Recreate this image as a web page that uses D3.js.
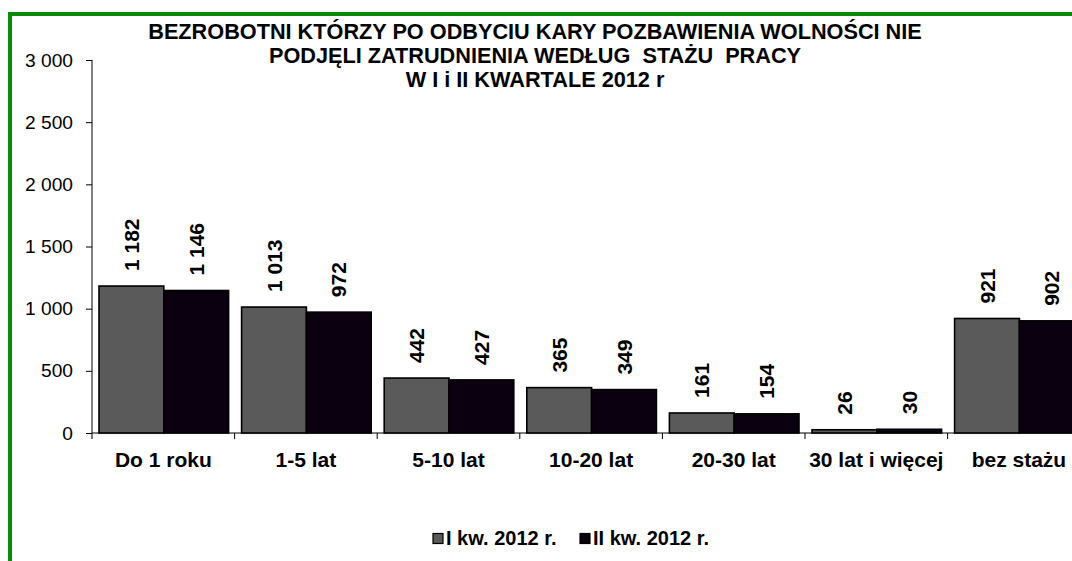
<!DOCTYPE html>
<html>
<head>
<meta charset="utf-8">
<title>Staż pracy</title>
<script src="https://cdnjs.cloudflare.com/ajax/libs/d3/7.8.5/d3.min.js"></script>
<style>
body{
margin:0;
background:#fff;
}
svg{
display:block;
font-family:"Liberation Sans", Arial, sans-serif;
}
</style>
</head>
<body>
<svg width="1072" height="561"></svg>

<script>

var categories = ["Do 1 roku", "1-5 lat", "5-10 lat", "10-20 lat", "20-30 lat", "30 lat i więcej", "bez stażu"]
var seriesNames = ["I kw. 2012 r.", "II kw. 2012 r."]
var q1 = [1182, 1013, 442, 365, 161, 26, 921]
var q2 = [1146, 972, 427, 349, 154, 30, 902]
var yTicks = [0, 500, 1000, 1500, 2000, 2500, 3000]
var titleLines = ["BEZROBOTNI KTÓRZY PO ODBYCIU KARY POZBAWIENIA WOLNOŚCI NIE", "PODJĘLI ZATRUDNIENIA WEDŁUG  STAŻU  PRACY", "W I i II KWARTALE 2012 r"]
var colors = ["#5a5a5a", "#0b0010"]

const FONT = "Liberation Sans, Arial, sans-serif"
const svg = d3.select('svg')
const fmt = d => d3.format(",")(d).replace(/,/g, " ")

// green frame, runs off the right and bottom edge
svg.append("rect")
	.attr("x", 10).attr("y", 14)
	.attr("width", 1100).attr("height", 600)
	.attr("fill", "none")
	.attr("stroke", "#0a8a0a")
	.attr("stroke-width", 4)

const x = d3.scaleBand().domain(categories).range([92, 92 + 7 * 142.6])
const xs = d3.scaleBand().domain([0, 1]).range([7, 142.6 - 6])
const y = d3.scaleLinear().domain([0, 3000]).range([433, 60])

// title
svg.append("g").selectAll("text")
	.data(titleLines)
	.join("text")
	.attr("x", 535)
	.attr("y", (d, i) => 38.5 + i * 24.3)
	.attr("text-anchor", "middle")
	.attr("font-size", 21.7)
	.attr("font-weight", "bold")
	.style("white-space", "pre")
	.text(d => d)

// y axis
const yAxis = svg.append("g")
	.attr("transform", "translate(92,0)")
	.call(d3.axisLeft(y).tickValues(yTicks).tickSize(6).tickPadding(13).tickFormat(fmt))
yAxis.select(".domain").attr("stroke", "#000").attr("d", "M0," + y(3000) + "V" + y(0))
yAxis.selectAll(".tick line").attr("stroke", "#000")
yAxis.selectAll("text").attr("font-size", 19.2).attr("font-family", FONT).attr("fill", "#000")

// x axis
const xAxis = svg.append("g")
	.attr("transform", "translate(0," + y(0) + ")")
	.call(d3.axisBottom(x).tickSize(0).tickPadding(19))
xAxis.select(".domain").attr("stroke", "#000").attr("d", "M92,0H1072")
xAxis.selectAll("text").attr("font-size", 21).attr("font-weight", "bold")
	.attr("font-family", FONT).attr("fill", "#000")
xAxis.selectAll(".sep")
	.data(categories)
	.join("line")
	.attr("class", "sep")
	.attr("x1", d => x(d)).attr("x2", d => x(d))
	.attr("y1", 0).attr("y2", 6)
	.attr("stroke", "#000")

// bars
const rows = categories.map((c, i) => [
	{cat: c, s: 0, v: q1[i]},
	{cat: c, s: 1, v: q2[i]}
]).flat()

svg.append("g").selectAll("rect")
	.data(rows)
	.join("rect")
	.attr("x", d => x(d.cat) + xs(d.s))
	.attr("y", d => y(d.v))
	.attr("width", xs.bandwidth())
	.attr("height", d => y(0) - y(d.v))
	.attr("fill", d => colors[d.s])
	.attr("stroke", "#000")
	.attr("stroke-width", 1.6)

// value labels, rotated
svg.append("g").selectAll("text")
	.data(rows)
	.join("text")
	.attr("transform", d => "translate(" + (x(d.cat) + xs(d.s) + xs.bandwidth() / 2 + 7.5) + "," + (y(d.v) - 15) + ") rotate(-90)")
	.attr("font-size", 21)
	.attr("font-weight", "bold")
	.text(d => fmt(d.v))

// legend
const legend = svg.append("g")
const lx = [433, 580]
legend.selectAll("rect")
	.data(seriesNames)
	.join("rect")
	.attr("x", (d, i) => lx[i]).attr("y", 533.5)
	.attr("width", 10).attr("height", 10)
	.attr("fill", (d, i) => colors[i])
	.attr("stroke", "#000")
	.attr("stroke-width", 1.2)
legend.selectAll("text")
	.data(seriesNames)
	.join("text")
	.attr("x", (d, i) => lx[i] + 13).attr("y", 545)
	.attr("font-size", 20)
	.attr("font-weight", "bold")
	.text(d => d)

</script>
</body>
</html>
